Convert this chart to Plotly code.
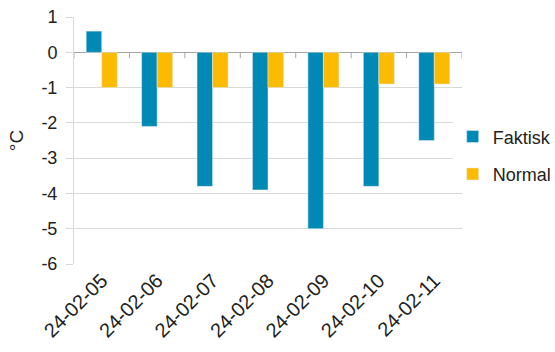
import plotly.graph_objects as go

dates = ["24-02-05", "24-02-06", "24-02-07", "24-02-08", "24-02-09", "24-02-10", "24-02-11"]
faktisk = [0.6, -2.1, -3.8, -3.9, -5.0, -3.8, -2.5]
normal = [-1.0, -1.0, -1.0, -1.0, -1.0, -0.9, -0.9]
y_ticks = [1, 0, -1, -2, -3, -4, -5, -6]

BLUE = "#0089B5"
YELLOW = "#FCBB00"
FONT = "Liberation Sans"

fig = go.Figure()
fig.add_trace(go.Bar(name="Faktisk", x=dates, y=faktisk, marker_color=BLUE, legendgroup="a"))
fig.add_trace(go.Bar(name="Normal", x=dates, y=normal, marker_color=YELLOW, legendgroup="b"))

# small tick marks hanging below the zero line at category boundaries
for i in range(len(dates) + 1):
    fig.add_shape(type="line", xref="x", yref="y", x0=i - 0.5, x1=i - 0.5,
                  ysizemode="pixel", yanchor=0, y0=0, y1=-6,
                  line=dict(color="#a6a6a6", width=1))

fig.update_layout(
    width=555, height=352,
    margin=dict(l=74, r=93, t=17, b=88, autoexpand=False),
    paper_bgcolor="white", plot_bgcolor="white",
    barmode="group", bargap=0.44, bargroupgap=0,
    font=dict(family=FONT, color="#222222", size=18),
    showlegend=True,
    legend=dict(x=0.976, y=0.44, xanchor="left", yanchor="middle",
                font=dict(size=18, family=FONT), traceorder="grouped",
                tracegroupgap=11, itemwidth=30),
    xaxis=dict(type="category", tickangle=-45, showgrid=False, showline=False,
               ticks="", tickfont=dict(size=20, family=FONT), range=[-0.5, 6.5]),
    yaxis=dict(range=[-6, 1], tickvals=y_ticks, ticktext=[str(v) for v in y_ticks],
               showgrid=True, gridcolor="#d9d9d9",
               gridwidth=1, zeroline=True, zerolinecolor="#a6a6a6", zerolinewidth=1,
               showline=True, linecolor="#d9d9d9", ticks="outside", ticklen=7,
               tickcolor="#d9d9d9", ticklabelstandoff=5,
               tickfont=dict(size=18, family=FONT),
               title=dict(text="°C", font=dict(size=19, family=FONT), standoff=12)),
)

fig.write_html("out.html")
